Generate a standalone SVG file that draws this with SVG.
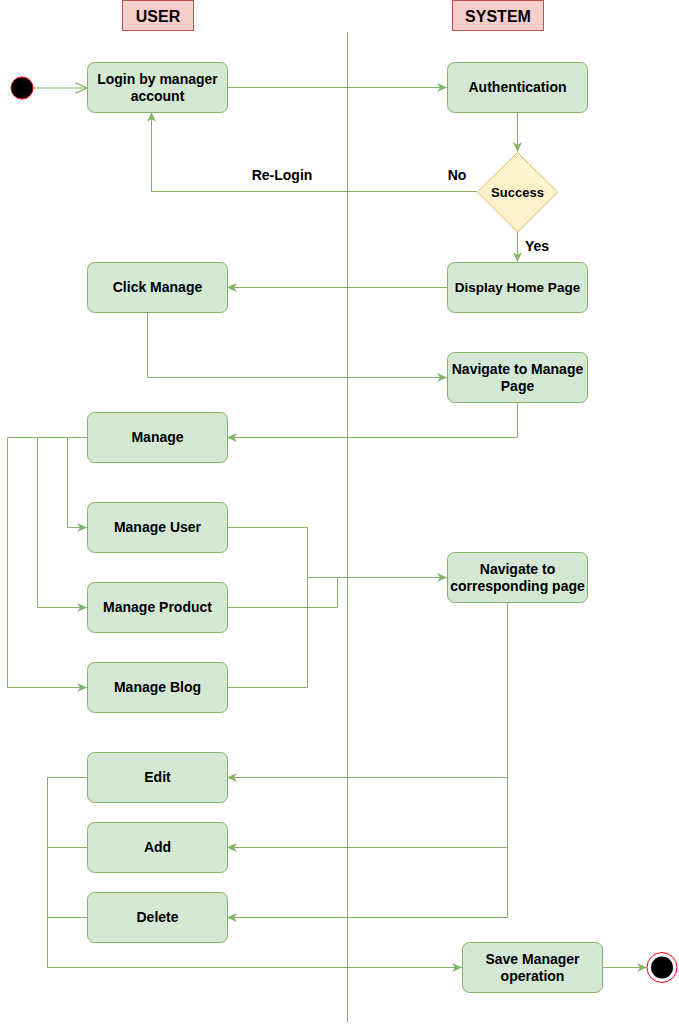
<svg xmlns="http://www.w3.org/2000/svg" width="679" height="1025" viewBox="0 0 679 1025">
<style>
.node rect{fill:#d5e8d4;stroke:#82b366;stroke-width:1}
.lbl{font-family:"Liberation Sans",Arial,sans-serif;font-weight:bold;font-size:14px;fill:#000;text-anchor:middle;dominant-baseline:central}
.hdr rect{fill:#f8cecc;stroke:#b85450}
.hdr text{font-family:"Liberation Sans",Arial,sans-serif;font-weight:bold;font-size:16px;text-anchor:middle;dominant-baseline:central}
.c{fill:none;stroke:#82b366;stroke-width:1}
</style>
<defs>
<marker id="a" viewBox="0 0 10 10" refX="10" refY="5" markerWidth="10" markerHeight="10" markerUnits="userSpaceOnUse" orient="auto">
<path d="M0,0.5 L10,5 L0,9.5 L3,5 Z" fill="#82b366"/>
</marker>
<marker id="o" viewBox="0 0 10 10" refX="10" refY="5" markerWidth="12" markerHeight="12" markerUnits="userSpaceOnUse" orient="auto">
<path d="M0,0.5 L10,5 L0,9.5" fill="none" stroke="#82b366" stroke-width="1"/>
</marker>
</defs>
<rect width="679" height="1025" fill="#fff"/>
<g id="hdr-user" class="hdr"><rect x="122.5" y="0.5" width="71" height="30"/><text x="158" y="16">USER</text></g>
<g id="hdr-system" class="hdr"><rect x="452.5" y="0.5" width="91" height="30"/><text x="498" y="16">SYSTEM</text></g>
<line id="divider" x1="347.5" y1="32" x2="347.5" y2="1022" stroke="#82b366" stroke-width="1"/>
<g id="connectors">
<path class="c" d="M33,88 H87" marker-end="url(#o)"/>
<path class="c" d="M227,87.5 H447" marker-end="url(#a)"/>
<path class="c" d="M517.5,112 V152" marker-end="url(#a)"/>
<path class="c" d="M477,191.5 H151.5 V112" marker-end="url(#a)"/>
<path class="c" d="M517.5,232 V262" marker-end="url(#a)"/>
<path class="c" d="M447,287.5 H227" marker-end="url(#a)"/>
<path class="c" d="M147.5,312 V377.5 H447" marker-end="url(#a)"/>
<path class="c" d="M517.5,402 V437.5 H227" marker-end="url(#a)"/>
<path class="c" d="M87,437.5 H67.5 V527.5 H87" marker-end="url(#a)"/>
<path class="c" d="M87,437.5 H37.5 V607.5 H87" marker-end="url(#a)"/>
<path class="c" d="M87,437.5 H7.5 V687.5 H87" marker-end="url(#a)"/>
<path class="c" d="M227,527.5 H307.5 V577.5 H447" marker-end="url(#a)"/>
<path class="c" d="M227,607.5 H337.5 V577.5"/>
<path class="c" d="M227,687.5 H307.5 V577.5"/>
<path class="c" d="M507.5,602 V777.5 H227" marker-end="url(#a)"/>
<path class="c" d="M507.5,777 V847.5 H227" marker-end="url(#a)"/>
<path class="c" d="M507.5,847 V917.5 H227" marker-end="url(#a)"/>
<path class="c" d="M87,777.5 H47.5 V967.5 H462" marker-end="url(#a)"/>
<path class="c" d="M87,847.5 H47.5"/>
<path class="c" d="M87,917.5 H47.5"/>
<path class="c" d="M602,967.5 H647" marker-end="url(#a)"/>
</g>
<g id="start"><circle cx="22" cy="88" r="11" fill="#000" stroke="#ff0000" stroke-width="1"/></g>
<g id="login" class="node"><rect x="87.5" y="62.5" width="140" height="50" rx="7"/><text class="lbl" x="157.5" y="79">Login by manager</text><text class="lbl" x="157.5" y="96">account</text></g>
<g id="auth" class="node"><rect x="447.5" y="62.5" width="140" height="50" rx="7"/><text class="lbl" x="517.5" y="87">Authentication</text></g>
<g id="success"><path d="M517.5,152.5 L557.5,192 L517.5,232 L477.5,192 Z" fill="#fff2cc" stroke="#d6b656"/><text class="lbl" x="517.5" y="192" style="font-size:13px">Success</text></g>
<text class="lbl" x="282" y="175">Re-Login</text>
<text class="lbl" x="457" y="175">No</text>
<text class="lbl" x="537" y="246">Yes</text>
<g id="home" class="node"><rect x="447.5" y="262.5" width="140" height="50" rx="7"/><text class="lbl" x="517.5" y="287" style="font-size:13.5px">Display Home Page</text></g>
<g id="click" class="node"><rect x="87.5" y="262.5" width="140" height="50" rx="7"/><text class="lbl" x="157.5" y="287">Click Manage</text></g>
<g id="navmanage" class="node"><rect x="447.5" y="352.5" width="140" height="50" rx="7"/><text class="lbl" x="517.5" y="369">Navigate to Manage</text><text class="lbl" x="517.5" y="386">Page</text></g>
<g id="manage" class="node"><rect x="87.5" y="412.5" width="140" height="50" rx="7"/><text class="lbl" x="157.5" y="437">Manage</text></g>
<g id="muser" class="node"><rect x="87.5" y="502.5" width="140" height="50" rx="7"/><text class="lbl" x="157.5" y="527">Manage User</text></g>
<g id="mproduct" class="node"><rect x="87.5" y="582.5" width="140" height="50" rx="7"/><text class="lbl" x="157.5" y="607">Manage Product</text></g>
<g id="mblog" class="node"><rect x="87.5" y="662.5" width="140" height="50" rx="7"/><text class="lbl" x="157.5" y="687">Manage Blog</text></g>
<g id="navcorr" class="node"><rect x="447.5" y="552.5" width="140" height="50" rx="7"/><text class="lbl" x="517.5" y="569">Navigate to</text><text class="lbl" x="517.5" y="586">corresponding page</text></g>
<g id="edit" class="node"><rect x="87.5" y="752.5" width="140" height="50" rx="7"/><text class="lbl" x="157.5" y="777">Edit</text></g>
<g id="add" class="node"><rect x="87.5" y="822.5" width="140" height="50" rx="7"/><text class="lbl" x="157.5" y="847">Add</text></g>
<g id="delete" class="node"><rect x="87.5" y="892.5" width="140" height="50" rx="7"/><text class="lbl" x="157.5" y="917">Delete</text></g>
<g id="save" class="node"><rect x="462.5" y="942.5" width="140" height="50" rx="7"/><text class="lbl" x="532.5" y="959">Save Manager</text><text class="lbl" x="532.5" y="976">operation</text></g>
<g id="end"><circle cx="662" cy="967.5" r="15" fill="#fff" stroke="#ff0000"/><circle cx="662" cy="967.5" r="11" fill="#000"/></g>
</svg>
